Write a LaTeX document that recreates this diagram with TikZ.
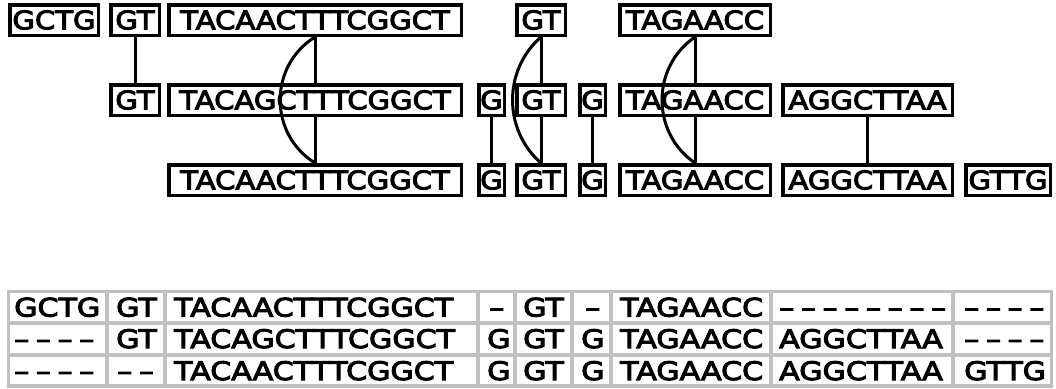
\documentclass[tikz,border=0pt]{standalone}
\usepackage{fontspec}
\newfontfamily\graphfam{DejaVu Sans}[FakeStretch=1.14,FakeBold=4]
\newfontfamily\tablefam{DejaVu Sans}[FakeStretch=1.18,FakeBold=4]
\definecolor{tablegray}{RGB}{192,192,192}
\newcommand\seqfont{\graphfam\fontsize{25.5}{30}\selectfont}
\newcommand\tabfont{\tablefam\fontsize{25.5}{30}\selectfont}
\newcommand\dsh{\makebox[21.7pt][l]{–}}
\tikzset{
  seq/.style={draw, line width=3.5pt, inner sep=0pt, minimum height=30.5pt, font=\seqfont},
  link/.style={line width=3pt},
  cell/.style={anchor=base west, inner sep=0pt, font=\tabfont},
  gridline/.style={draw=tablegray, line width=3.5pt}
}
\begin{document}
\begin{tikzpicture}[x=1pt,y=-1pt]
\useasboundingbox (0,0) rectangle (1056,388);
% top row
\node[seq, minimum width=88.5pt]  (t1) at (54,20)    {GCTG};
\node[seq, minimum width=48.5pt]  (t2) at (135,20)   {GT};
\node[seq, minimum width=292.5pt] (t3) at (315,20)   {TACAACTTTCGGCT};
\node[seq, minimum width=48.5pt]  (t4) at (541,20)   {GT};
\node[seq, minimum width=150.5pt] (t5) at (695,20)   {TAGAACC};
% middle row
\node[seq, minimum width=48.5pt]  (m1) at (135,100)  {GT};
\node[seq, minimum width=292.5pt] (m2) at (315,100)  {TACAGCTTTCGGCT};
\node[seq, minimum width=25.5pt]  (m3) at (491.5,100) {G};
\node[seq, minimum width=48.5pt]  (m4) at (541,100)  {GT};
\node[seq, minimum width=25.5pt]  (m5) at (592.5,100) {G};
\node[seq, minimum width=150.5pt] (m6) at (695,100)  {TAGAACC};
\node[seq, minimum width=169.5pt] (m7) at (867.5,100) {AGGCTTAA};
% bottom row
\node[seq, minimum width=292.5pt] (b1) at (315,180)  {TACAACTTTCGGCT};
\node[seq, minimum width=25.5pt]  (b2) at (491.5,180) {G};
\node[seq, minimum width=48.5pt]  (b3) at (541,180)  {GT};
\node[seq, minimum width=25.5pt]  (b4) at (592.5,180) {G};
\node[seq, minimum width=150.5pt] (b5) at (695,180)  {TAGAACC};
\node[seq, minimum width=169.5pt] (b6) at (867.5,180) {AGGCTTAA};
\node[seq, minimum width=84.5pt]  (b7) at (1008,180) {GTTG};
% connectors
\draw[link] (t2.south) -- (m1.north);
\draw[link] (t3.south) -- (m2.north);
\draw[link] (m2.south) -- (b1.north);
\draw[link] (t4.south) -- (m4.north);
\draw[link] (m4.south) -- (b3.north);
\draw[link] (t5.south) -- (m6.north);
\draw[link] (m6.south) -- (b5.north);
\draw[link] (m3.south) -- (b2.north);
\draw[link] (m5.south) -- (b4.north);
\draw[link] (m7.south) -- (b6.north);
\draw[link] (t3.south) .. controls +(-46.5,29) and +(-46.5,-29) .. (b1.north);
\draw[link] (t4.south) .. controls +(-38,33) and +(-38,-33) .. (b3.north);
\draw[link] (t5.south) .. controls +(-44,30) and +(-44,-30) .. (b5.north);
% table grid
\draw[gridline] (8.5,291.5) rectangle (1051.5,386);
\foreach \y in {323,355} \draw[gridline] (8.5,\y) -- (1051.5,\y);
\foreach \x in {107,165,478,515,572,611,771,953} \draw[gridline] (\x,291.5) -- (\x,386);
% table text
\node[cell] (r1c1) at (14,316.5)  {GCTG};
\node[cell] (r1c2) at (116,316.5) {GT};
\node[cell] (r1c3) at (174,316.5) {TACAACTTTCGGCT};
\node[cell] (r1c4) at (489,316.5) {\dsh};
\node[cell] (r1c5) at (523,316.5) {GT};
\node[cell] (r1c6) at (585,316.5) {\dsh};
\node[cell] (r1c7) at (620,316.5) {TAGAACC};
\node[cell] (r1c8) at (779,316.5) {\dsh\dsh\dsh\dsh\dsh\dsh\dsh\dsh};
\node[cell] (r1c9) at (964,316.5) {\dsh\dsh\dsh\dsh};
\node[cell] (r2c1) at (14,348)  {\dsh\dsh\dsh\dsh};
\node[cell] (r2c2) at (116,348) {GT};
\node[cell] (r2c3) at (174,348) {TACAGCTTTCGGCT};
\node[cell] (r2c4) at (487,348) {G};
\node[cell] (r2c5) at (523,348) {GT};
\node[cell] (r2c6) at (581,348) {G};
\node[cell] (r2c7) at (620,348) {TAGAACC};
\node[cell] (r2c8) at (779,348) {AGGCTTAA};
\node[cell] (r2c9) at (964,348) {\dsh\dsh\dsh\dsh};
\node[cell] (r3c1) at (14,380)  {\dsh\dsh\dsh\dsh};
\node[cell] (r3c2) at (117,380) {\dsh\dsh};
\node[cell] (r3c3) at (174,380) {TACAACTTTCGGCT};
\node[cell] (r3c4) at (487,380) {G};
\node[cell] (r3c5) at (523,380) {GT};
\node[cell] (r3c6) at (581,380) {G};
\node[cell] (r3c7) at (620,380) {TAGAACC};
\node[cell] (r3c8) at (779,380) {AGGCTTAA};
\node[cell] (r3c9) at (964,380) {GTTG};
\end{tikzpicture}
\end{document}
